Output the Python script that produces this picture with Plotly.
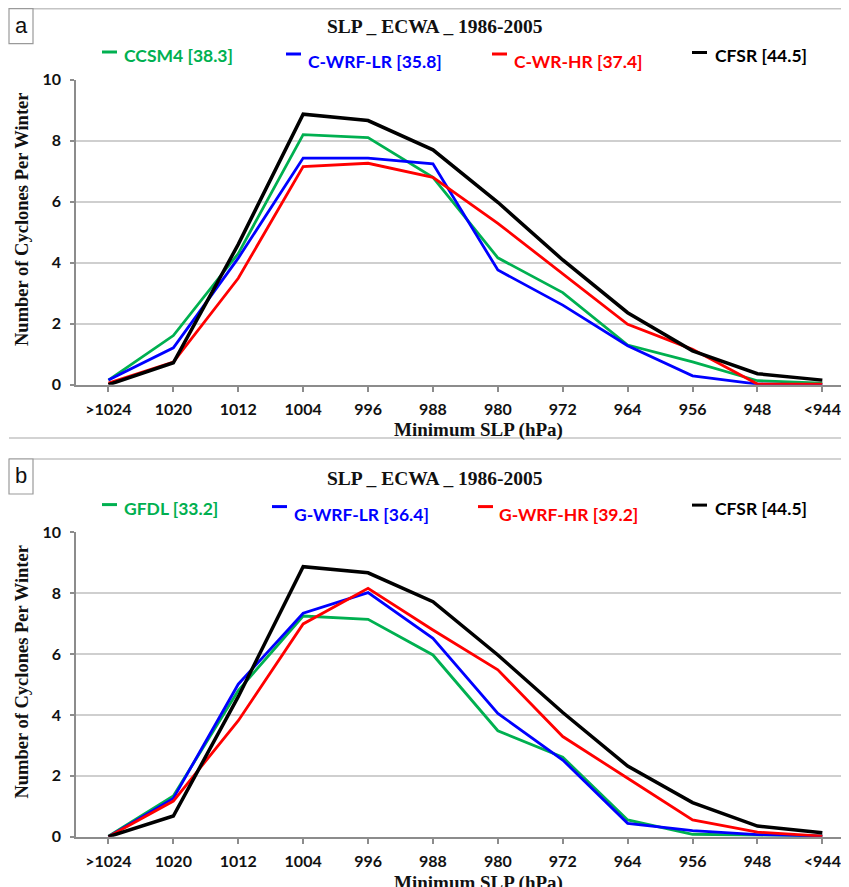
import plotly.graph_objects as go

W, H = 849, 887
OFF = 8  # page body margin offset

categories = [">1024", "1020", "1012", "1004", "996", "988", "980", "972", "964", "956", "948", "<944"]
tick_labels = ["&gt;1024", "1020", "1012", "1004", "996", "988", "980", "972", "964", "956", "948", "&lt;944"]

# Panel a
a_ccsm4 = [0.15, 1.61, 4.30, 8.20, 8.10, 6.80, 4.16, 3.02, 1.30, 0.75, 0.13, 0.05]
a_cwrf_lr = [0.15, 1.21, 4.15, 7.43, 7.43, 7.24, 3.76, 2.61, 1.28, 0.29, 0.02, 0.00]
a_cwr_hr = [0.05, 0.74, 3.49, 7.15, 7.26, 6.80, 5.29, 3.62, 1.98, 1.16, 0.02, 0.02]
a_cfsr = [0.00, 0.72, 4.60, 8.87, 8.66, 7.70, 5.98, 4.09, 2.36, 1.11, 0.36, 0.15]

# Panel b
b_gfdl = [0.02, 1.34, 4.80, 7.25, 7.14, 5.97, 3.48, 2.61, 0.55, 0.08, 0.05, 0.03]
b_gwrf_lr = [0.00, 1.26, 5.01, 7.34, 8.02, 6.52, 4.05, 2.52, 0.44, 0.20, 0.07, 0.02]
b_gwrf_hr = [0.00, 1.17, 3.81, 6.99, 8.16, 6.79, 5.48, 3.29, 1.92, 0.55, 0.15, 0.02]
b_cfsr = [0.00, 0.68, 4.60, 8.87, 8.67, 7.72, 5.97, 4.08, 2.32, 1.12, 0.35, 0.13]

a_names = ["CCSM4 [38.3]", "C-WRF-LR [35.8]", "C-WR-HR [37.4]", "CFSR [44.5]"]
b_names = ["GFDL [33.2]", "G-WRF-LR [36.4]", "G-WRF-HR [39.2]", "CFSR [44.5]"]
colors = ["#00b050", "#0000ff", "#ff0000", "#000000"]
widths = [2.8, 2.8, 2.8, 3.5]

title_text = "SLP _ ECWA _ 1986-2005"
x_title = "Minimum SLP (hPa)"
y_title = "Number of Cyclones Per Winter"

SERIF = "Liberation Serif"
SANS = "Lato"


def py(p):
    return 1 - (p - OFF) / H


def px(p):
    return (p - OFF) / W


fig = go.Figure()

for series, name, c, w in zip([a_ccsm4, a_cwrf_lr, a_cwr_hr, a_cfsr], a_names, colors, widths):
    fig.add_trace(go.Scatter(x=categories, y=series, name=name, mode="lines",
                             line=dict(color=c, width=w), xaxis="x", yaxis="y", showlegend=False))
for series, name, c, w in zip([b_gfdl, b_gwrf_lr, b_gwrf_hr, b_cfsr], b_names, colors, widths):
    fig.add_trace(go.Scatter(x=categories, y=series, name=name, mode="lines",
                             line=dict(color=c, width=w), xaxis="x2", yaxis="y2", showlegend=False))

grid = "#cfcfcf"
axc = "#8c8c8c"
tickfont = dict(family=SANS, size=16, color="#111111", weight="bold")

# plot area: left at screen x 76, category spacing ~64.9 px
x_left = 76
spacing = 64.9
x_max = (W + OFF - x_left) / spacing - 0.5

xcommon = dict(type="category", categoryorder="array", categoryarray=categories,
               tickmode="array", tickvals=categories, ticktext=tick_labels,
               range=[-0.5, x_max], showgrid=False, showline=True, linecolor=axc, linewidth=1.5,
               ticks="outside", ticklen=6, tickcolor=axc, tickwidth=1.5, automargin=False,
               tickfont=tickfont, ticklabelstandoff=3, zeroline=False, fixedrange=True)
ycommon = dict(range=[0, 10], tickvals=[0, 2, 4, 6, 8, 10], showgrid=True, gridcolor=grid,
               gridwidth=1.5, showline=True, linecolor=axc, linewidth=1.5, automargin=False,
               ticks="outside", ticklen=4, tickcolor=axc, tickwidth=1.5,
               tickfont=tickfont, ticklabelstandoff=6, zeroline=False, fixedrange=True)

fig.update_layout(
    template="none",
    width=W, height=H,
    margin=dict(l=0, r=0, t=0, b=0, autoexpand=False),
    paper_bgcolor="white", plot_bgcolor="white",
    xaxis=dict(domain=[px(x_left), 1.0], anchor="y", **xcommon),
    yaxis=dict(domain=[py(384.7), py(79.7)], anchor="x", **ycommon),
    xaxis2=dict(domain=[px(x_left), 1.0], anchor="y2", **xcommon),
    yaxis2=dict(domain=[py(836.7), py(532.3)], anchor="x2", **ycommon),
    showlegend=False,
)

shapes = []
annotations = []
frame = "#c4c4c4"

# Frame lines
for yline in [8.7, 438, 459]:
    shapes.append(dict(type="line", xref="paper", yref="paper", x0=px(9), x1=1.0,
                       y0=py(yline), y1=py(yline), line=dict(color=frame, width=1.5)))

# Panel boxes and letters
for letter, top in [("a", 8.7), ("b", 459)]:
    shapes.append(dict(type="rect", xref="paper", yref="paper", x0=px(9), x1=px(33),
                       y0=py(top + 35), y1=py(top), line=dict(color="#9a9a9a", width=1.2),
                       fillcolor="white"))
    annotations.append(dict(text=letter, xref="paper", yref="paper", x=px(21), y=py(top + 17),
                            xanchor="center", yanchor="middle", showarrow=False,
                            font=dict(family="Liberation Sans", size=22, color="#111111")))

offsets = [0, 452.6]
leg_layout = [
    [(102, 122, 52, 55.5), (286, 306, 54, 61.5), (492, 512, 54, 61.5), (692, 713, 52.5, 55.5)],
    [(102, 122, 52, 55.5), (272, 292, 54, 61.5), (478, 497, 54, 61.5), (692, 713, 52.5, 55.5)],
]

for pi, (off, names) in enumerate(zip(offsets, [a_names, b_names])):
    annotations.append(dict(text="<b>" + title_text + "</b>", xref="paper", yref="paper",
                            x=px(435), y=py(26 + off), xanchor="center", yanchor="middle",
                            showarrow=False, font=dict(family=SERIF, size=19.5, color="#111111")))
    for (dx, tx, dy, ty), name, c in zip(leg_layout[pi], names, colors):
        shapes.append(dict(type="line", xref="paper", yref="paper", x0=px(dx), x1=px(dx + 15),
                           y0=py(dy + off), y1=py(dy + off), line=dict(color=c, width=3)))
        annotations.append(dict(text=name, xref="paper", yref="paper", x=px(tx), y=py(ty + off),
                                xanchor="left", yanchor="middle", showarrow=False,
                                font=dict(family=SANS, size=17.5, color=c, weight="bold")))
    annotations.append(dict(text="<b>" + y_title + "</b>", xref="paper", yref="paper",
                            x=px(22), y=py(219 + off), xanchor="center", yanchor="middle",
                            textangle=-90, showarrow=False,
                            font=dict(family=SERIF, size=18.5, color="#111111")))
    annotations.append(dict(text="<b>" + x_title + "</b>", xref="paper", yref="paper",
                            x=px(478), y=py(430 + off), xanchor="center", yanchor="middle",
                            showarrow=False, font=dict(family=SERIF, size=19, color="#111111")))

fig.update_layout(shapes=shapes, annotations=annotations)

fig.write_html("out.html")
